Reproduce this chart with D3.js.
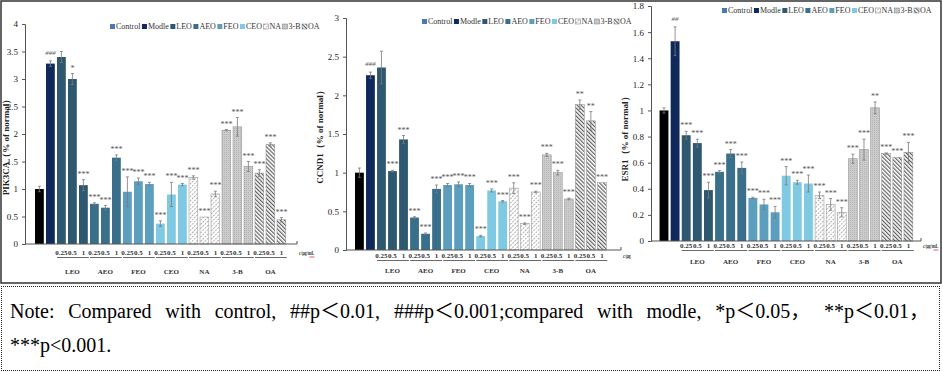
<!DOCTYPE html>
<html lang="en">
<head>
<meta charset="UTF-8">
<title>PIK3CA, CCND1 and ESR1 expression</title>
<script src="https://d3js.org/d3.v7.min.js"></script>
<style>
    body { margin: 0; background: #fff; width: 943px; height: 372px; position: relative; overflow: hidden; }
    svg text { font-family: "Liberation Serif", "Times New Roman", serif; }
    .note {
        position: absolute; left: 1px; top: 286px; width: 939px; height: 85px;
        border: 1px dotted #222; box-sizing: border-box;
        font-family: "Liberation Serif", "Noto Sans CJK SC", serif; font-size: 20px; line-height: 23px;
        padding: 0 10px 0 8px; color: #000;
    }
    .note .l1 { text-align: justify; text-align-last: justify; margin-top: 13px; white-space: nowrap; }
    .note .l2 { margin-top: 11px; }
    .note .nb { display: inline-block; }
</style>
</head>
<body>

<svg id="chart" width="943" height="286"></svg>

<div class="note">
    <div class="l1">Note: Compared with control, <span class="nb">##p＜0.01,</span> <span class="nb">###p＜0.001;compared</span> with modle, <span class="nb">*p＜0.05，</span> <span class="nb">**p＜0.01，</span></div>
    <div class="l2">***p&lt;0.001.</div>
</div>

<script>
    // categories
    const groups = ["LEO", "AEO", "FEO", "CEO", "NA", "3-B", "OA"];
    const doses = ["0.25", "0.5", "1"];
    const legendNames = ["Control", "Modle", "LEO", "AEO", "FEO", "CEO", "NA", "3-B", "OA"];
    const bars = ["Control", "Modle"].concat(groups.flatMap(g => doses.map(d => g + " " + d)));

    // PIK3CA (% of normal)
    const pik3caValues = [1.00, 3.28, 3.40, 3.00, 1.07, 0.73, 0.66, 1.57, 0.95, 1.14, 1.09, 0.37, 0.90, 1.08, 1.21, 0.49, 0.91, 2.07, 2.13, 1.41, 1.29, 1.81, 0.44];
    const pik3caSD     = [0.05, 0.05, 0.10, 0.10, 0.10, 0.02, 0.04, 0.05, 0.27, 0.06, 0.03, 0.05, 0.22, 0.02, 0.03, 0.00, 0.05, 0.01, 0.17, 0.09, 0.06, 0.03, 0.04];
    const pik3caMarks  = ["", "###", "", "*", "***", "***", "***", "***", "***", "***", "***", "***", "***", "***", "***", "***", "***", "***", "***", "***", "***", "***", "***"];

    // CCND1 (% of normal)
    const ccnd1Values = [1.00, 2.26, 2.36, 1.02, 1.43, 0.42, 0.21, 0.79, 0.84, 0.85, 0.84, 0.18, 0.77, 0.63, 0.80, 0.34, 0.75, 1.23, 1.00, 0.66, 1.88, 1.67, 0.87];
    const ccnd1SD     = [0.06, 0.04, 0.21, 0.01, 0.05, 0.01, 0.01, 0.05, 0.02, 0.03, 0.02, 0.01, 0.02, 0.01, 0.07, 0.01, 0.01, 0.02, 0.03, 0.01, 0.06, 0.12, 0.00];
    const ccnd1Marks  = ["", "###", "", "***", "***", "***", "***", "***", "***", "***", "***", "***", "***", "***", "***", "***", "***", "***", "***", "***", "**", "**", "***"];

    // ESR1 (% of normal)
    const esr1Values = [1.00, 1.53, 0.81, 0.75, 0.39, 0.53, 0.67, 0.56, 0.33, 0.28, 0.22, 0.50, 0.45, 0.44, 0.35, 0.28, 0.22, 0.63, 0.70, 1.02, 0.67, 0.64, 0.68];
    const esr1SD     = [0.02, 0.11, 0.03, 0.03, 0.06, 0.01, 0.03, 0.045, 0.005, 0.04, 0.045, 0.07, 0.015, 0.065, 0.025, 0.045, 0.035, 0.035, 0.08, 0.045, 0.005, 0.00, 0.075];
    const esr1Marks  = ["", "##", "***", "***", "***", "***", "***", "***", "***", "***", "***", "***", "***", "***", "***", "***", "***", "***", "***", "**", "***", "***", "***"];

    // colours per category
    const barFill = {
        "Control": "#000000", "Modle": "#10295c", "LEO": "#2e5870", "AEO": "#3a6f8c",
        "FEO": "#5c9ebd", "CEO": "#80c9e2", "NA": "url(#hatchNA)", "3-B": "url(#dots3B)", "OA": "url(#stripeOA)"
    };
    const legendFill = Object.assign({}, barFill, { "Control": "#4b78b2" });

    const svg = d3.select("#chart");

    // patterns
    const defs = svg.append("defs");
    const na = defs.append("pattern").attr("id", "hatchNA").attr("patternUnits", "userSpaceOnUse")
        .attr("width", 3).attr("height", 3).attr("patternTransform", "rotate(45)");
    na.append("rect").attr("width", 3).attr("height", 3).attr("fill", "#fff");
    na.append("line").attr("x1", 0.5).attr("y1", 0).attr("x2", 0.5).attr("y2", 3)
        .attr("stroke", "#9a9a9a").attr("stroke-width", 0.8).attr("stroke-dasharray", "2,1");

    const tb = defs.append("pattern").attr("id", "dots3B").attr("patternUnits", "userSpaceOnUse")
        .attr("width", 2).attr("height", 2);
    tb.append("rect").attr("width", 2).attr("height", 2).attr("fill", "#cbcbcb");
    tb.append("circle").attr("cx", 0.5).attr("cy", 0.5).attr("r", 0.45).attr("fill", "#a0a0a0");

    const oa = defs.append("pattern").attr("id", "stripeOA").attr("patternUnits", "userSpaceOnUse")
        .attr("width", 2.8).attr("height", 2.8).attr("patternTransform", "rotate(-45)");
    oa.append("rect").attr("width", 2.8).attr("height", 2.8).attr("fill", "#fff");
    oa.append("line").attr("x1", 0.6).attr("y1", 0).attr("x2", 0.6).attr("y2", 2.8)
        .attr("stroke", "#555").attr("stroke-width", 1.1);

    // outer frame of the figure
    svg.append("rect").attr("x", 1).attr("y", 1).attr("width", 940).attr("height", 282)
        .attr("fill", "none").attr("stroke", "#333").attr("stroke-width", 1.5);

    const panels = [
        { title: "PIK3CA", values: pik3caValues, sd: pik3caSD, marks: pik3caMarks,
          yMax: 4, yStep: 0.5, yBase: 244, yTop: 24, axisX: 25, axisEnd: 297, band: [30.6, 290.2],
          titleX: 9, titleY: 145, legendX: 110, legendY: 29, numY: 255, nameY: 274, unit: "c/μg/mL" },
        { title: "CCND1", values: ccnd1Values, sd: ccnd1SD, marks: ccnd1Marks,
          yMax: 3, yStep: 0.5, yBase: 250, yTop: 18, axisX: 346, axisEnd: 621, band: [350.6, 610.7],
          titleX: 323, titleY: 135, legendX: 422, legendY: 24, numY: 258, nameY: 273, unit: "c/μg" },
        { title: "ESR1", values: esr1Values, sd: esr1SD, marks: esr1Marks,
          yMax: 1.8, yStep: 0.2, yBase: 241, yTop: 6, axisX: 651, axisEnd: 921, band: [655.1, 917.3],
          titleX: 628, titleY: 137, legendX: 722, legendY: 13, numY: 248, nameY: 264, unit: "c/μg/mL" }
    ];

    panels.forEach(p => {
        const g = svg.append("g");
        const data = bars.map((name, i) => ({
            name, cat: name.split(" ")[0], dose: name.split(" ")[1] || "",
            value: p.values[i], sd: p.sd[i], mark: p.marks[i]
        }));

        const x = d3.scaleBand().domain(bars).range(p.band).paddingInner(0.2).paddingOuter(0.4);
        const y = d3.scaleLinear().domain([0, p.yMax]).range([p.yBase, p.yTop]);

        // bars
        g.selectAll(".bar").data(data).enter().append("rect")
            .attr("x", d => x(d.name))
            .attr("y", d => y(d.value))
            .attr("width", x.bandwidth())
            .attr("height", d => p.yBase - y(d.value))
            .attr("fill", d => barFill[d.cat])
            .attr("stroke", d => ["NA", "3-B", "OA"].includes(d.cat) ? "#8a8a8a" : "none")
            .attr("stroke-width", 0.5);

        // error bars
        const eb = g.selectAll(".err").data(data.filter(d => d.sd > 0)).enter().append("g")
            .attr("stroke", "#7a7a7a").attr("stroke-width", 0.8);
        eb.append("line")
            .attr("x1", d => x(d.name) + x.bandwidth() / 2).attr("x2", d => x(d.name) + x.bandwidth() / 2)
            .attr("y1", d => y(d.value - d.sd)).attr("y2", d => y(d.value + d.sd));
        eb.append("line")
            .attr("x1", d => x(d.name) + x.bandwidth() / 2 - 1.5).attr("x2", d => x(d.name) + x.bandwidth() / 2 + 1.5)
            .attr("y1", d => y(d.value + d.sd)).attr("y2", d => y(d.value + d.sd));
        eb.append("line")
            .attr("x1", d => x(d.name) + x.bandwidth() / 2 - 1.5).attr("x2", d => x(d.name) + x.bandwidth() / 2 + 1.5)
            .attr("y1", d => y(d.value - d.sd)).attr("y2", d => y(d.value - d.sd));

        // significance marks
        g.selectAll(".mark").data(data.filter(d => d.mark)).enter().append("text")
            .attr("x", d => x(d.name) + x.bandwidth() / 2)
            .attr("y", d => y(d.value + d.sd) - (d.mark.includes("#") ? 6 : 3))
            .attr("text-anchor", "middle")
            .attr("font-size", d => d.mark.includes("#") ? 7 : 8)
            .attr("font-style", d => d.mark.includes("#") ? "italic" : "normal")
            .attr("fill", "#555")
            .text(d => d.mark);

        // y axis
        const ticks = d3.range(0, p.yMax + p.yStep / 2, p.yStep).map(v => +v.toFixed(1));
        const ya = g.append("g").attr("transform", `translate(${p.axisX},0)`)
            .call(d3.axisLeft(y).tickValues(ticks).tickSize(3).tickPadding(4).tickFormat(d => d));
        ya.select(".domain").attr("stroke", "#555");
        ya.selectAll(".tick line").attr("stroke", "#555");
        ya.selectAll("text").attr("font-size", 9).attr("fill", "#222")
            .style("font-family", "'Liberation Serif', serif");

        // x axis baseline
        g.append("line").attr("x1", p.axisX).attr("x2", p.axisEnd)
            .attr("y1", p.yBase).attr("y2", p.yBase).attr("stroke", "#555").attr("stroke-width", 1);
        g.append("line").attr("x1", p.axisEnd).attr("x2", p.axisEnd)
            .attr("y1", p.yBase).attr("y2", p.yBase - 3).attr("stroke", "#555");

        // dose labels
        g.selectAll(".dose").data(data.filter(d => d.dose)).enter().append("text")
            .attr("x", d => x(d.name) + x.bandwidth() / 2)
            .attr("y", p.numY)
            .attr("text-anchor", "middle").attr("font-size", 7).attr("font-weight", "bold").attr("fill", "#333")
            .text(d => d.dose);

        // group underline + names
        groups.forEach(gr => {
            const x0 = x(gr + " 0.25"), x1 = x(gr + " 1") + x.bandwidth();
            g.append("line").attr("x1", x0).attr("x2", x1 + 1)
                .attr("y1", p.numY + 2.5).attr("y2", p.numY + 2.5).attr("stroke", "#444").attr("stroke-width", 0.8);
            g.append("text").attr("x", (x0 + x1) / 2).attr("y", p.nameY)
                .attr("text-anchor", "middle").attr("font-size", 7).attr("font-weight", "bold").attr("fill", "#333")
                .text(gr);
        });

        // unit, squeezed like the original
        const ux = p.axisEnd + 2;
        const ut = g.append("text")
            .attr("transform", `translate(${ux},${p.numY}) scale(0.62,1)`)
            .attr("font-size", 7).attr("font-weight", "bold").attr("fill", "#333")
            .html("<tspan font-style='italic'>c</tspan>" + p.unit.slice(1));
        if (p.unit.endsWith("mL")) {
            const w = ut.node().getComputedTextLength() * 0.62;
            g.append("line").attr("x1", ux + w - 5).attr("x2", ux + w)
                .attr("y1", p.numY + 2).attr("y2", p.numY + 2).attr("stroke", "#d33").attr("stroke-width", 0.8);
        }

        // y title
        g.append("text")
            .attr("transform", `translate(${p.titleX},${p.titleY}) rotate(-90)`)
            .attr("text-anchor", "middle").attr("font-size", 9).attr("font-weight", "bold").attr("fill", "#222")
            .text(p.title + "（% of normal）");

        // legend
        let lx = p.legendX;
        legendNames.forEach(n => {
            g.append("rect").attr("x", lx).attr("y", p.legendY - 5).attr("width", 5).attr("height", 5)
                .attr("fill", legendFill[n])
                .attr("stroke", ["NA", "3-B", "OA"].includes(n) ? "#777" : "none").attr("stroke-width", 0.5);
            const t = g.append("text").attr("x", lx + 6).attr("y", p.legendY)
                .attr("font-size", 8).attr("fill", "#333").text(n);
            lx += 6 + t.node().getComputedTextLength() + 1.5;
        });
    });
</script>

</body>
</html>
